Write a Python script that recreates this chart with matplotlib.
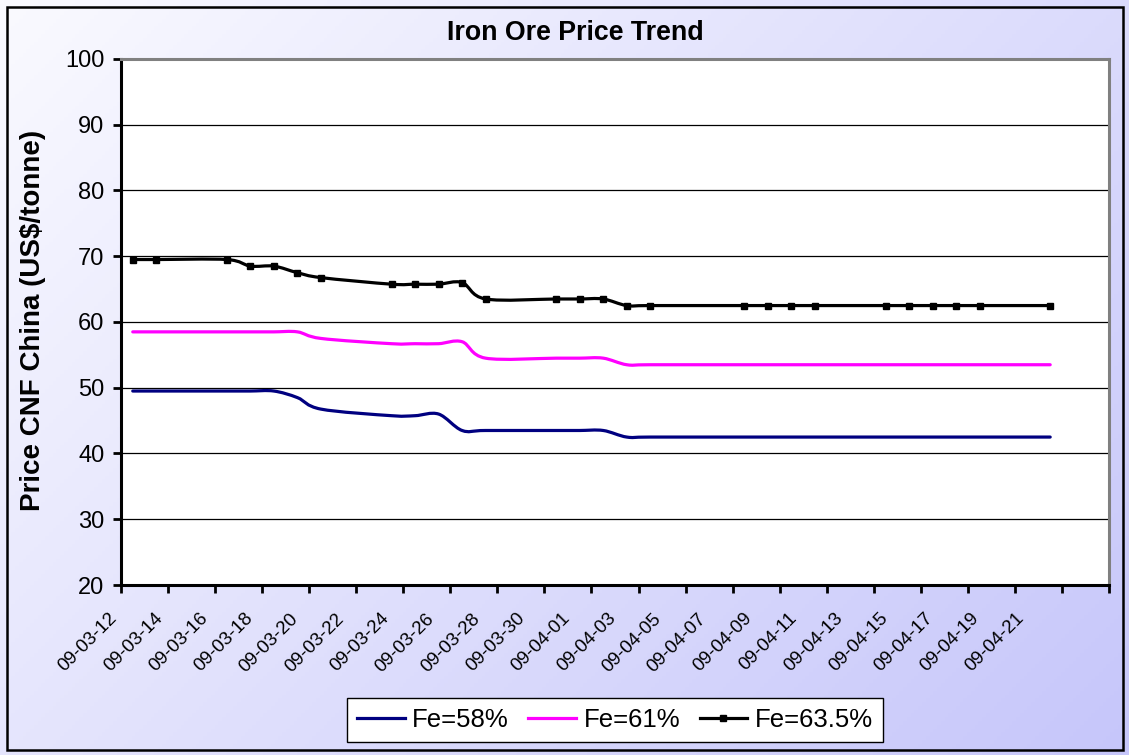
import numpy as np
import matplotlib
matplotlib.use("Agg")
import matplotlib.pyplot as plt
from matplotlib.path import Path
from matplotlib.patches import PathPatch, Rectangle
from matplotlib.lines import Line2D
from matplotlib.transforms import ScaledTranslation

plt.rcParams['font.family'] = ['Liberation Sans', 'DejaVu Sans']

# ---------------- data ----------------
dates = ['2009-03-12', '2009-03-13', '2009-03-16', '2009-03-17', '2009-03-18',
         '2009-03-19', '2009-03-20', '2009-03-23', '2009-03-24', '2009-03-25',
         '2009-03-26', '2009-03-27', '2009-03-30', '2009-03-31', '2009-04-01',
         '2009-04-02', '2009-04-03', '2009-04-07', '2009-04-08', '2009-04-09',
         '2009-04-10', '2009-04-13', '2009-04-14', '2009-04-15', '2009-04-16',
         '2009-04-17', '2009-04-20']
fe58 = [49.5, 49.5, 49.5, 49.5, 49.5, 48.5, 46.75, 45.75, 45.75, 46.0,
        43.5, 43.5, 43.5, 43.5, 43.5, 42.5, 42.5, 42.5, 42.5, 42.5,
        42.5, 42.5, 42.5, 42.5, 42.5, 42.5, 42.5]
fe61 = [58.5, 58.5, 58.5, 58.5, 58.5, 58.5, 57.5, 56.7, 56.7, 56.7,
        57.0, 54.5, 54.5, 54.5, 54.5, 53.5, 53.5, 53.5, 53.5, 53.5,
        53.5, 53.5, 53.5, 53.5, 53.5, 53.5, 53.5]
fe635 = [69.5, 69.5, 69.5, 68.5, 68.5, 67.5, 66.75, 65.75, 65.75, 65.75,
         66.0, 63.5, 63.5, 63.5, 63.5, 62.5, 62.5, 62.5, 62.5, 62.5,
         62.5, 62.5, 62.5, 62.5, 62.5, 62.5, 62.5]
series_names = ['Fe=58%', 'Fe=61%', 'Fe=63.5%']
tick_labels = ['09-03-12', '09-03-14', '09-03-16', '09-03-18', '09-03-20',
               '09-03-22', '09-03-24', '09-03-26', '09-03-28', '09-03-30',
               '09-04-01', '09-04-03', '09-04-05', '09-04-07', '09-04-09',
               '09-04-11', '09-04-13', '09-04-15', '09-04-17', '09-04-19',
               '09-04-21']
y_ticks = [20, 30, 40, 50, 60, 70, 80, 90, 100]
title = 'Iron Ore Price Trend'
ylabel = 'Price CNF China (US$/tonne)'

# ---------------- figure ----------------
W, H, DPI = 1129, 755, 100
fig = plt.figure(figsize=(W / DPI, H / DPI), dpi=DPI)

# gradient background
bg = fig.add_axes([0, 0, 1, 1], zorder=-10)
gx, gy = np.meshgrid(np.linspace(0, 1, 300), np.linspace(0, 1, 200))
t = np.clip((gx * 0.6 + gy * 0.4), 0, 1)
c0 = np.array([250, 250, 255]) / 255.0
c1 = np.array([198, 198, 250]) / 255.0
img = c0[None, None, :] * (1 - t[..., None]) + c1[None, None, :] * t[..., None]
bg.imshow(img, aspect='auto', extent=[0, 1, 0, 1], origin='upper')
bg.set_axis_off()
bg.add_patch(Rectangle((7 / W, 5 / H), (W - 13) / W, (H - 12) / H,
                       transform=bg.transAxes, fill=False, ec='black', lw=1.8))

# plot area
L, R, T, B = 121, 1109, 59, 585
ax = fig.add_axes([L / W, 1 - B / H, (R - L) / W, (B - T) / H])
ax.set_facecolor('white')

start = np.datetime64(dates[0])
x = (np.array(dates, dtype='datetime64[D]') - start).astype(float)


def smooth_path(xs, ys):
    n = len(xs)
    verts = [(xs[0], ys[0])]
    codes = [Path.MOVETO]
    for i in range(n - 1):
        p0 = i - 1 if i > 0 else i
        p3 = i + 2 if i + 2 < n else i + 1
        c1 = (xs[i] + (xs[i + 1] - xs[p0]) / 6.0, ys[i] + (ys[i + 1] - ys[p0]) / 6.0)
        c2 = (xs[i + 1] - (xs[p3] - xs[i]) / 6.0, ys[i + 1] - (ys[p3] - ys[i]) / 6.0)
        verts += [c1, c2, (xs[i + 1], ys[i + 1])]
        codes += [Path.CURVE4] * 3
    return Path(verts, codes)


colors = ['#000080', '#ff00ff', '#000000']
for vals, col in zip([fe58, fe61, fe635], colors):
    ax.add_patch(PathPatch(smooth_path(x, np.array(vals, float)), fill=False,
                           ec=col, lw=2.3, capstyle='round', joinstyle='round', zorder=3))
ax.plot(x, fe635, ls='none', marker='s', ms=5, color='black', zorder=4)

ax.set_xlim(-0.5, 41.5)
ax.set_ylim(20, 100)
ax.set_yticks(y_ticks)
ax.set_yticklabels([str(v) for v in y_ticks], fontsize=17)
ax.yaxis.grid(True, color='black', lw=0.9)
ax.set_axisbelow(True)
ax.tick_params(axis='y', length=6, width=2, direction='out', pad=6)

# x tick marks at 2-day boundaries; rotated category labels placed below
ax.set_xticks(np.arange(-0.5, 41.6, 2.0))
ax.set_xticklabels([])
ax.tick_params(axis='x', length=6, width=2, direction='out', color='black')
ax.set_xlim(-0.5, 41.5)
lab_pos = -1.03 + 1.927 * np.arange(len(tick_labels))
lab_trans = ax.get_xaxis_transform() + ScaledTranslation(0, -25 / DPI, fig.dpi_scale_trans)
for pos, txt in zip(lab_pos, tick_labels):
    ax.text(pos, 0, txt, transform=lab_trans, rotation=45, ha='right', va='top',
            rotation_mode='anchor', fontsize=13.5, clip_on=False)

for s in ['left', 'bottom']:
    ax.spines[s].set_color('black')
    ax.spines[s].set_linewidth(2.2)
for s in ['top', 'right']:
    ax.spines[s].set_color('#808080')
    ax.spines[s].set_linewidth(2.2)

fig.text(575 / W, 1 - 33 / H, title, ha='center', va='center',
         fontsize=19.3, fontweight='bold')
fig.text(33 / W, 1 - 320 / H, ylabel, ha='center', va='center', rotation=90,
         fontsize=20, fontweight='bold')

handles = [Line2D([], [], color=colors[0], lw=2.3),
           Line2D([], [], color=colors[1], lw=2.3),
           Line2D([], [], color=colors[2], lw=2.3, marker='s', ms=5)]
leg = fig.legend(handles, series_names, loc='center', ncol=3,
                 bbox_to_anchor=(615 / W, 1 - 720 / H), fontsize=18.5,
                 frameon=True, fancybox=False, edgecolor='black', framealpha=1,
                 handlelength=1.85, handletextpad=0.3, columnspacing=0.75,
                 borderpad=0.4)
leg.get_frame().set_linewidth(1.0)

fig.savefig('out.png', dpi=DPI)
